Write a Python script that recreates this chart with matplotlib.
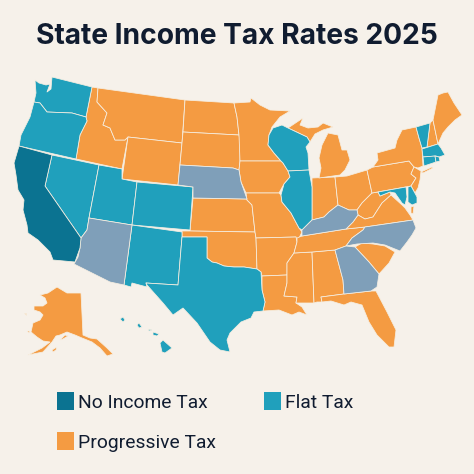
import matplotlib.pyplot as plt
from matplotlib.patches import Rectangle

# ─── COLOURS ───────────────────────────────────────────────
BG = "#F6F1EA"
NO_TAX_C = "#0B7391"
FLAT_C = "#20A0BC"
PROG_C = "#F49B42"
OTHER_C = "#7F9FB9"

# ─── STATE OUTLINES (image pixels) ─
WA = [(35,80),(39,83),(46,85),(50,84),(47,92),(51,89),(52,77),(92,87),(86,117),(72,113),(47,112),(40,103),(34,102),(36,93)]
OR = [(34,102),(40,103),(47,112),(72,113),(86,117),(87,121),(80,135),(76,159),(19,146),(21,135),(30,117)]
CA = [(19,146),(52,155),(45,186),(81,238),(80,248),(75,262),(53,260),(50,252),(38,240),(28,233),(27,225),(23,210),(24,200),(18,190),(16,175),(14,163)]
NV = [(52,155),(99,165),(89,218),(87,230),(81,238),(45,186)]
UT = [(99,165),(122,169),(122,179),(137,182),(132,225),(89,218)]
CO = [(137,182),(193,187),(190,230),(132,225)]
WY = [(128,137),(182,143),(178,185),(122,179)]
MT = [(98,88),(185,100),(182,143),(128,137),(125,140),(115,140),(110,128),(103,125),(107,113),(97,102)]
ID = [(92,87),(98,88),(97,102),(107,113),(103,125),(110,128),(115,140),(125,140),(128,137),(122,169),(76,159),(80,135),(87,121),(86,117)]
AZ = [(89,218),(132,225),(124,285),(110,282),(74,264),(78,257),(80,248),(81,238),(87,230)]
NM = [(132,225),(182,232),(182,237),(178,285),(146,283),(147,287),(132,283),(131,287),(124,285)]
TX = [(182,237),(207,237),(207,258),(212,262),(217,263),(224,266),(234,267),(244,267),(257,269),(261,272),(262,290),(265,302),(263,311),(254,312),(251,318),(241,322),(230,333),(227,340),(230,352),(220,350),(210,342),(197,323),(183,308),(173,315),(163,303),(147,285),(146,283),(178,285)]
OK = [(182,231),(190,231),(255,232),(256,238),(257,269),(244,267),(234,267),(224,266),(217,263),(212,262),(207,258),(207,237),(182,237)]
KS = [(193,198),(247,199),(247,200),(252,205),(255,232),(190,231)]
NE = [(180,165),(233,168),(239,170),(241,182),(247,199),(193,198),(193,187),(178,185)]
SD = [(183,132),(239,135),(240,141),(240,161),(239,170),(233,168),(180,165)]
ND = [(185,100),(234,103),(237,117),(239,135),(183,132)]
MN = [(234,103),(250,102),(251,98),(260,105),(270,110),(290,111),(280,117),(272,127),(269,135),(268,145),(274,153),(281,161),(240,161),(239,135),(237,117)]
WI = [(273,128),(282,125),(288,128),(307,137),(310,142),(306,147),(308,153),(309,170),(288,171),(283,163),(281,161),(274,153),(268,145),(269,135)]
IA = [(240,161),(281,161),(283,163),(288,171),(290,177),(284,184),(279,193),(246,193),(241,182),(239,170)]
IL = [(288,171),(309,170),(312,187),(312,215),(312,220),(302,230),(299,228),(291,213),(282,202),(281,195),(284,184),(290,177)]
MO = [(246,193),(279,193),(281,195),(282,202),(291,213),(299,228),(302,232),(297,242),(296,237),(256,238),(255,232),(252,205),(247,200)]
AR = [(256,238),(296,237),(297,242),(294,253),(287,263),(287,275),(262,276),(261,272),(257,269)]
LA = [(262,276),(287,275),(287,283),(284,296),(297,297),(296,303),(302,307),(307,315),(299,312),(292,315),(279,310),(263,311),(265,302),(262,290)]
MS = [(294,253),(312,252),(314,303),(302,303),(296,303),(297,297),(284,296),(287,283),(287,263)]
AL = [(312,252),(335,250),(343,280),(344,294),(321,297),(322,302),(317,302),(314,303)]
TN = [(297,238),(302,236),(346,229),(365,227),(363,230),(352,238),(346,246),(335,250),(312,252),(294,253),(297,242)]
KY = [(302,230),(312,220),(324,217),(329,212),(338,205),(349,210),(357,210),(358,215),(353,222),(346,229),(302,236)]
IN = [(312,178),(335,177),(338,205),(329,212),(324,217),(312,220),(312,215),(312,187)]
OH = [(335,177),(347,176),(367,170),(372,193),(367,198),(362,203),(357,210),(349,210),(338,205)]
MI_LOW = [(319,158),(322,145),(328,133),(338,135),(342,150),(347,150),(350,160),(345,170),(340,175),(319,178),(321,168)]
MI_UP = [(288,128),(303,118),(300,125),(308,128),(318,127),(323,123),(333,127),(323,130),(315,134),(310,142),(307,137)]
WV = [(372,193),(378,192),(380,196),(390,192),(391,195),(382,203),(373,217),(365,219),(358,215),(357,210),(362,203),(367,198)]
VA = [(346,229),(353,222),(358,215),(365,219),(373,217),(382,203),(391,195),(402,205),(405,208),(410,215),(413,220),(365,227)]
VA_SHORE = [(411,207),(414,206),(413,214),(411,213)]
MD = [(378,192),(406,187),(407,197),(405,205),(402,203),(395,193),(390,192),(380,196)]
DE_SHORE = [(408,187),(411,186),(417,197),(417,203),(412,205),(408,202)]
PA = [(367,170),(373,167),(409,161),(414,167),(411,174),(416,178),(411,186),(372,193)]
NY = [(373,167),(378,160),(377,153),(395,148),(397,140),(402,130),(416,127),(419,138),(422,148),(423,166),(418,168),(414,167),(409,161)]
LONG_ISLAND = [(421,172),(432,167),(433,168),(423,173)]
NJ = [(414,167),(421,171),(420,180),(418,188),(415,193),(411,186),(416,178),(411,174)]
VT = [(416,127),(430,123),(427,147),(422,148),(419,138)]
NH = [(430,123),(433,120),(438,144),(428,147),(427,147)]
ME = [(433,120),(435,110),(438,95),(443,93),(448,92),(454,103),(462,115),(455,120),(448,127),(443,133),(438,144)]
MA = [(422,149),(438,144),(441,148),(445,155),(439,157),(436,156),(423,157)]
CT = [(423,157),(435,156),(436,162),(424,166)]
RI = [(435,156),(439,157),(440,161),(436,162)]
NC = [(365,227),(413,220),(416,228),(412,235),(407,242),(400,251),(385,245),(373,243),(357,244),(346,246),(352,238),(363,230)]
SC = [(355,247),(362,243),(373,244),(385,246),(395,252),(389,263),(379,274),(369,262)]
GA = [(335,250),(346,246),(355,247),(369,262),(379,274),(377,287),(371,291),(344,294),(343,280)]
FL = [(321,297),(344,294),(371,291),(376,291),(387,312),(396,330),(394,347),(389,347),(377,335),(369,322),(362,305),(351,302),(344,305),(331,301),(322,302)]
AK = [(40,295),(48,293),(57,287),(67,293),(81,293),(83,335),(90,338),(97,339),(107,348),(113,354),(107,356),(100,348),(92,342),(82,338),(75,335),(67,332),(60,335),(56,336),(52,342),(43,352),(28,355),(42,348),(50,342),(43,341),(37,337),(31,332),(33,323),(40,320),(43,315),(40,312),(34,310),(34,306),(43,306),(47,303),(45,298)]
KENAI = [(60,340),(65,335),(68,336),(63,339)]
KODIAK = [(52,350),(57,347),(56,350),(53,352)]
ST_LAWRENCE = [(24,313),(26,313),(26,315)]
NUNIVAK = [(27,331),(30,331),(29,333)]
HI_BIG = [(160,343),(163,340),(172,348),(165,353),(162,352)]
HI_MAUI = [(153,332),(159,334),(157,336),(153,335)]
HI_MOLOKAI = [(148,329),(152,330),(149,331)]
HI_OAHU = [(137,325),(139,323),(142,327),(139,328)]
HI_KAUAI = [(120,319),(123,317),(125,320),(123,322)]

# which colour each outline gets
no_tax_states = [CA]
flat_states = [WA, OR, NV, UT, CO, NM, TX, WI, IL, VT, MA, CT, RI, MD, DE_SHORE,
               HI_BIG, HI_MAUI, HI_MOLOKAI, HI_OAHU, HI_KAUAI]
prog_states = [ID, MT, WY, ND, SD, MN, IA, KS, OK, MO, AR, LA, MS, AL, TN, IN, OH, MI_LOW, MI_UP, WV, VA, VA_SHORE, PA, NY,
               LONG_ISLAND, NJ, NH, ME, SC, FL, AK, KENAI, KODIAK, ST_LAWRENCE, NUNIVAK]
other_states = [NE, AZ, KY, NC, GA]

legend_labels = ["No Income Tax", "Flat Tax", "Progressive Tax"]
legend_colors = [NO_TAX_C, FLAT_C, PROG_C]

# ─── DRAW ──────────────────────────────────────────────────
plt.rcParams["font.family"] = ["Roboto", "DejaVu Sans"]
fig = plt.figure(figsize=(4.74, 4.74), dpi=100, facecolor=BG)
ax = fig.add_axes([0, 0, 1, 1])
ax.set_xlim(0, 474)
ax.set_ylim(474, 0)
ax.axis("off")

for group, col in [(prog_states, PROG_C), (flat_states, FLAT_C), (other_states, OTHER_C), (no_tax_states, NO_TAX_C)]:
    for outline in group:
        xs, ys = zip(*outline)
        ax.fill(xs, ys, facecolor=col, edgecolor="#F6EFE2", linewidth=0.55, joinstyle="round")

ax.text(237, 44, "State Income Tax Rates 2025", ha="center", va="baseline",
        fontsize=20.3, fontweight="bold", color="#101C30", family=["Inter", "DejaVu Sans"])

# legend, placed by hand (swatch left, swatch top, text baseline)
legend_pos = [(57, 392, 408), (264, 392, 408), (57, 432, 448)]
for (x, y, base), lab, col in zip(legend_pos, legend_labels, legend_colors):
    ax.add_patch(Rectangle((x, y), 17, 17.5, facecolor=col, edgecolor="none"))
    ax.text(x + 21, base, lab, ha="left", va="baseline", fontsize=13.9, color="#101C30")

fig.savefig("out.png", dpi=100, facecolor=BG)
